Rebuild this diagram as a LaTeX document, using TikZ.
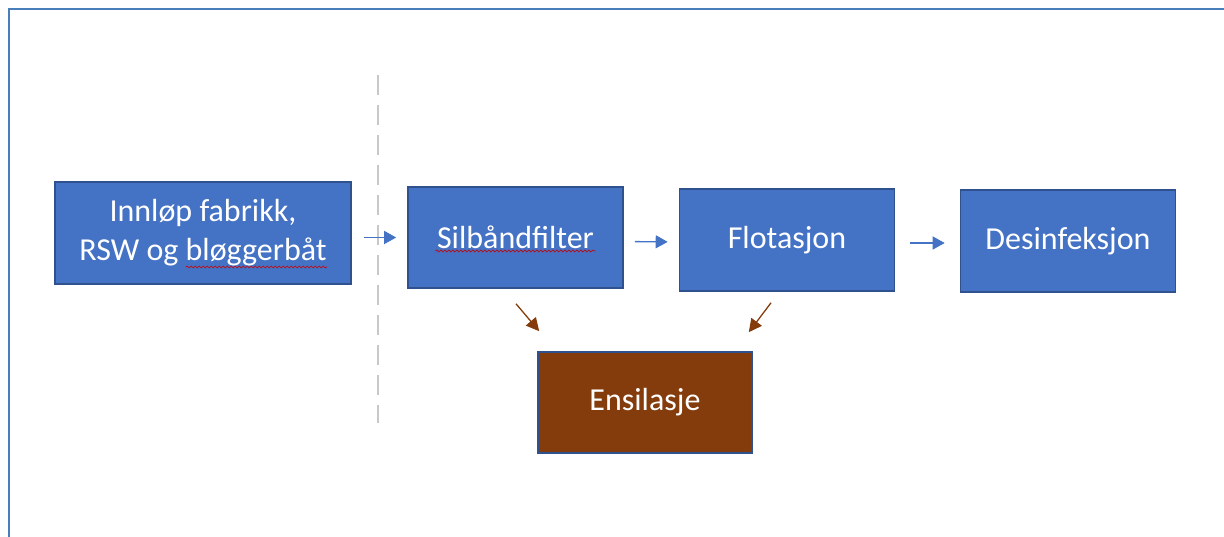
\documentclass[tikz,border=0pt]{standalone}
\usepackage{fontspec}
\setmainfont{Carlito}
\usetikzlibrary{arrows.meta,calc,decorations.pathmorphing}
\definecolor{boxblue}{HTML}{4472C4}
\definecolor{edgeblue}{HTML}{2F528F}
\definecolor{silage}{HTML}{843C0C}
\definecolor{framecol}{HTML}{4A7EBB}
\definecolor{cutgray}{HTML}{C8C8C8}
\tikzset{
  stage/.style={draw=edgeblue, line width=1.6pt, fill=boxblue, text=white,
    minimum width=215pt, minimum height=101pt, inner sep=0pt, align=center,
    font=\fontsize{32}{39}\selectfont},
  flow/.style={boxblue, line width=1.3pt, -{Triangle[length=12pt,width=13pt]}},
  waste/.style={silage, line width=1.3pt, -{Triangle[length=13pt,width=13pt]}},
  typo/.style={red!80!black, line width=0.7pt, decorate,
    decoration={snake, amplitude=1pt, segment length=4pt}}
}

\begin{document}
\begin{tikzpicture}[x=1pt,y=-1pt]
                \useasboundingbox (0,0) rectangle (1224,537);
                \draw[framecol, line width=2pt] (1224,9) -- (9,9) -- (9,537);
                \draw[cutgray, line width=2.5pt, dash pattern=on 20pt off 10pt] (378,75) -- (378,423);
                % process line
                \node[stage, minimum width=296pt, minimum height=102pt] (inn) at (203,233) {Innløp fabrikk,\\RSW og bløggerbåt};
                \node[stage] (sil) at (515.5,237.5) {Silbåndfilter};
                \node[stage, minimum height=102pt] (flo) at (787,240) {Flotasjon};
                \node[stage, minimum height=102pt] (des) at (1068,241) {Desinfeksjon};
                \node[stage, fill=silage, minimum width=214pt] (ens) at (645,402.5) {Ensilasje};
                \draw[flow, shorten <=12pt, shorten >=11pt] (inn.east |- sil.west) -- (sil.west);
                \draw[flow, shorten <=11pt, shorten >=11pt] ($(sil.east)+(0,4)$) -- ($(flo.west)+(0,2)$);
                \draw[flow, shorten <=15pt, shorten >=15pt] ($(flo.east)+(0,3)$) -- ($(des.west)+(0,2)$);
                \draw[waste] ($(sil.south)+(0.5,15)$) -- ($(ens.north west)+(2,-20)$);
                \draw[waste] ($(flo.south)+(-16,11)$) -- ($(ens.north east)+(-4,-19)$);
                % spelling marks
                \draw[typo] ($(sil)+(-80,13.5)$) -- ($(sil)+(80,13.5)$);
                \draw[typo] ($(inn)+(-17,34)$) -- ($(inn)+(124,34)$);
            \end{tikzpicture}
\end{document}
